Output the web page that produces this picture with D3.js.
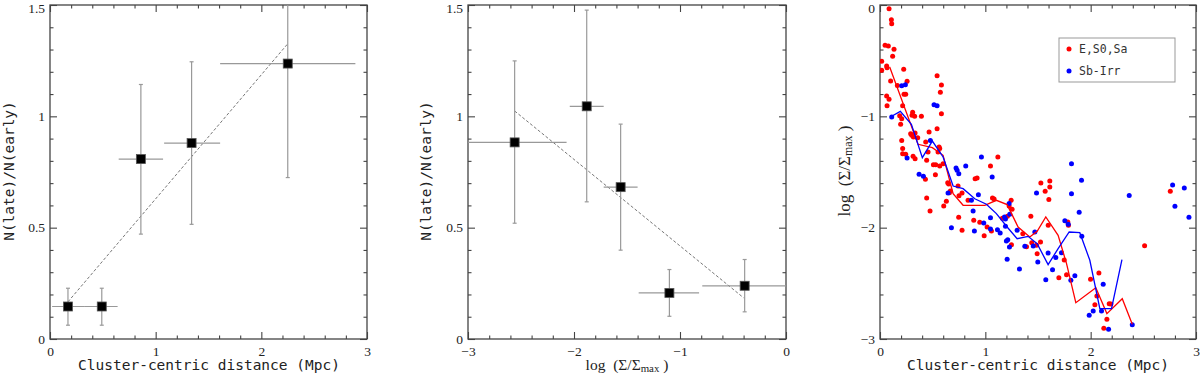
<!DOCTYPE html>
<html>
<head>
<meta charset="utf-8">
<script src="https://cdn.jsdelivr.net/npm/d3@7"></script>
<style>
  body { margin: 0; background: #fff; }
  .monoLabel { font-family: "DejaVu Sans Mono", monospace; font-size: 14.5px; fill: #222; }
  .serifLabel { font-family: "Liberation Serif", serif; fill: #222; }
</style>
</head>
<body>
<div id="canvas"></div>
<script>
"use strict"
let svgWidth = 1200;
let svgHeight = 375;

// ---- panel 1 : ratio vs cluster-centric distance
let p1X    = [0.17, 0.49, 0.86, 1.34, 2.25];
let p1Y    = [0.146, 0.146, 0.808, 0.880, 1.237];
let p1XLo  = [0.02, 0.33, 0.65, 1.08, 1.61];
let p1XHi  = [0.33, 0.64, 1.07, 1.61, 2.89];
let p1YLo  = [0.062, 0.062, 0.471, 0.515, 0.725];
let p1YHi  = [0.228, 0.228, 1.143, 1.245, 1.75];
let p1FitX = [0.17, 2.25];
let p1FitY = [0.167, 1.326];

// ---- panel 2 : ratio vs log density
let p2X    = [-2.56, -1.88, -1.56, -1.10, -0.39];
let p2Y    = [0.883, 1.045, 0.682, 0.207, 0.239];
let p2XLo  = [-3.0, -2.04, -1.72, -1.39, -0.79];
let p2XHi  = [-2.07, -1.72, -1.40, -0.82, 0.0];
let p2YLo  = [0.52, 0.616, 0.399, 0.102, 0.122];
let p2YHi  = [1.249, 1.477, 0.965, 0.312, 0.357];
let p2FitX = [-2.56, -0.40];
let p2FitY = [1.024, 0.185];

// ---- panel 3 : log density vs distance, early (red) and late (blue) types
let redX = [0.086,0.108,0.111,0.048,0.079,0.133,0.120,0.016,0.016,0.063,0.067,0.225,0.101,0.257,0.165,0.228,0.244,0.063,0.086,0.067,0.215,
  0.542,0.583,0.573,0.583,0.310,0.329,0.304,0.393,0.206,0.187,0.196,0.291,0.301,0.333,0.317,0.358,0.206,0.434,0.466,0.542,
  0.215,0.215,0.244,0.314,0.333,0.456,0.443,0.561,0.567,0.551,0.507,0.529,0.567,0.526,0.431,0.443,0.475,0.599,0.643,0.652,
  0.668,0.659,0.605,0.630,0.741,0.750,0.779,0.747,0.779,0.836,0.903,0.922,0.890,0.947,0.989,1.017,1.049,1.119,1.068,1.083,
  1.058,1.226,1.245,1.254,1.248,1.210,1.162,1.391,1.432,1.356,1.441,1.486,1.492,1.527,1.568,1.612,1.612,1.603,1.597,1.524,
  1.698,1.749,1.771,1.783,1.789,1.999,2.078,2.040,2.059,2.125,2.154,2.176,2.192,2.512,2.756];
let redY = [-0.033,-0.132,-0.168,-0.362,-0.368,-0.398,-0.461,-0.506,-0.587,-0.548,-0.563,-0.578,-0.683,-0.686,-0.722,-0.802,-0.802,-0.817,-0.847,-0.904,-0.904,
  -0.635,-0.719,-0.784,-0.976,-0.964,-1.000,-0.991,-1.000,-1.021,-0.994,-1.072,-1.156,-1.171,-1.150,-1.186,-1.192,-1.216,-1.231,-1.141,-1.111,
  -1.290,-1.335,-1.341,-1.359,-1.380,-1.320,-1.395,-1.275,-1.290,-1.320,-1.434,-1.434,-1.446,-1.524,-1.566,-1.734,-1.850,-1.425,-1.596,-1.608,
  -1.671,-1.686,-1.805,-1.763,-1.626,-1.713,-1.689,-1.907,-2.024,-1.754,-1.560,-1.554,-1.934,-1.952,-2.072,-1.994,-1.446,-1.365,-1.734,-1.743,
  -2.030,-1.805,-1.754,-1.835,-2.153,-1.898,-1.916,-2.171,-1.898,-2.054,-2.135,-2.159,-2.234,-1.599,-1.674,-1.581,-1.635,-1.746,-1.979,-2.129,
  -2.449,-2.290,-2.422,-1.949,-1.979,-2.464,-2.407,-2.692,-2.614,-2.904,-2.823,-2.683,-2.686,-2.162,-1.674];

let blueX = [0.111,0.206,0.241,0.257,0.371,0.412,0.478,0.513,0.542,0.722,0.732,0.748,0.814,0.646,0.678,0.868,0.884,0.896,0.934,0.963,
  0.985,1.049,1.049,1.065,1.115,1.141,1.182,1.191,1.191,1.207,1.213,1.200,1.226,1.232,1.229,1.302,1.324,1.375,1.455,1.470,
  1.486,1.498,1.574,1.596,1.638,1.669,1.723,1.755,1.787,1.812,1.818,1.818,1.850,1.891,1.913,1.916,1.986,2.024,2.103,2.119,
  2.170,2.395,2.366,2.778,2.800,2.889,2.933];
let blueY = [-1.006,-0.725,-0.716,-1.374,-1.521,-1.539,-1.216,-0.895,-0.904,-1.464,-1.485,-1.515,-1.446,-1.689,-2.000,-1.754,-1.850,-2.030,-1.704,-1.365,
  -1.958,-1.910,-2.012,-1.545,-2.018,-2.048,-1.904,-1.922,-1.988,-2.284,-2.108,-2.120,-1.784,-1.880,-2.174,-2.024,-2.371,-2.168,-2.165,-2.039,
  -1.689,-2.308,-2.467,-2.228,-2.377,-2.269,-2.225,-1.937,-1.970,-2.473,-1.425,-1.695,-2.431,-1.862,-1.575,-2.078,-2.787,-2.749,-2.749,-2.509,
  -2.913,-2.871,-1.710,-1.617,-1.808,-1.644,-1.907];

let redLineX  = [0.092,0.361,0.497,0.599,0.694,0.789,0.995,1.105,1.207,1.311,1.422,1.492,1.574,1.691,1.771,1.859,2.049,2.154,2.300,2.395];
let redLineY  = [-0.557,-1.251,-1.281,-1.350,-1.695,-1.799,-1.799,-1.754,-1.793,-1.994,-2.084,-2.033,-1.904,-2.069,-2.323,-2.674,-2.539,-2.772,-2.638,-2.868];
let blueLineX = [0.098,0.193,0.298,0.402,0.497,0.599,0.694,0.789,0.900,1.010,1.105,1.207,1.302,1.406,1.492,1.596,1.691,1.796,1.897,1.992,2.087,2.198,2.297];
let blueLineY = [-1.006,-0.955,-1.072,-1.371,-1.222,-1.365,-1.626,-1.650,-1.740,-1.790,-1.874,-1.994,-2.099,-2.078,-2.144,-2.332,-2.189,-2.039,-2.045,-2.293,-2.728,-2.728,-2.287];

let legendNames  = ["E,S0,Sa", "Sb-Irr"];
let legendColors = ["#ff0000", "#0000ff"];

let svg = d3.select("#canvas")
    .append("svg")
    .attr("width", svgWidth)
    .attr("height", svgHeight);

svg.append("rect")
    .attr("width", svgWidth)
    .attr("height", svgHeight)
    .attr("fill", "#ffffff");

// range helper for tick positions
function steps(a, b, s) {
    let out = [];
    let n = Math.round((b - a) / s);
    for (let i = 0; i <= n; i++) out.push(+(a + i * s).toFixed(4));
    return out;
}

function fmtTick(d) {
    if (d === 0) return "0";
    return d < 0 ? "\u2212" + Math.abs(d) : String(d);
}

// frame with inward ticks on all four sides
function makePanel(id, left, right, xDomain, yDomain, xMajor, xMinor, yMajor, yMinor) {
    let top = 5, bottom = 339;
    let x = d3.scaleLinear().domain(xDomain).range([left, right]);
    let y = d3.scaleLinear().domain(yDomain).range([bottom, top]);
    let g = svg.append("g");

    svg.append("clipPath").attr("id", id)
        .append("rect")
        .attr("x", left).attr("y", top)
        .attr("width", right - left).attr("height", bottom - top);

    // [axis maker, scale, transform, major, minor, labelled, padding]
    let sides = [
        [d3.axisBottom, x, `translate(0,${bottom})`, xMajor, xMinor, true, 7],
        [d3.axisTop, x, `translate(0,${top})`, xMajor, xMinor, false, 7],
        [d3.axisLeft, y, `translate(${left},0)`, yMajor, yMinor, true, 5],
        [d3.axisRight, y, `translate(${right},0)`, yMajor, yMinor, false, 5]
    ];
    sides.forEach(function (a) {
        let minor = a[4].filter(v => a[3].indexOf(v) < 0);
        g.append("g").attr("transform", a[2])
            .call(a[0](a[1]).tickValues(minor).tickSize(-3.5).tickFormat(""))
            .call(s => s.select(".domain").remove());
        let maj = g.append("g").attr("transform", a[2])
            .call(a[0](a[1]).tickValues(a[3]).tickSize(-7).tickPadding(a[6])
                .tickFormat(a[5] ? fmtTick : ""))
            .call(s => s.select(".domain").remove());
        maj.selectAll("text")
            .attr("font-family", "Liberation Serif, serif")
            .attr("font-size", 13.5)
            .attr("fill", "#222");
        // keep the topmost y label inside the picture
        if (a[0] === d3.axisLeft) {
            maj.selectAll("text")
                .filter(d => d === yDomain[1])
                .attr("dy", "0.55em");
        }
    });
    g.selectAll(".tick line").attr("stroke", "#444").attr("stroke-width", 1.1);

    g.append("rect")
        .attr("x", left).attr("y", top)
        .attr("width", right - left).attr("height", bottom - top)
        .attr("fill", "none")
        .attr("stroke", "#444")
        .attr("stroke-width", 1.3);

    return { x: x, y: y, g: g, clip: "url(#" + id + ")" };
}

// squares with error bars and the dashed fit
function drawRatio(p, xs, ys, xlo, xhi, ylo, yhi, fitX, fitY) {
    let layer = svg.append("g").attr("clip-path", p.clip);
    let idx = d3.range(xs.length);

    layer.append("path")
        .attr("d", d3.line().x(i => p.x(fitX[i])).y(i => p.y(fitY[i]))(d3.range(fitX.length)))
        .attr("fill", "none")
        .attr("stroke", "#777")
        .attr("stroke-width", 1)
        .attr("stroke-dasharray", "3,2");

    idx.forEach(function (i) {
        layer.append("line")
            .attr("x1", p.x(xlo[i])).attr("x2", p.x(xhi[i]))
            .attr("y1", p.y(ys[i])).attr("y2", p.y(ys[i]))
            .attr("stroke", "#999").attr("stroke-width", 1.2);
        layer.append("line")
            .attr("x1", p.x(xs[i])).attr("x2", p.x(xs[i]))
            .attr("y1", p.y(ylo[i])).attr("y2", p.y(yhi[i]))
            .attr("stroke", "#999").attr("stroke-width", 1.2);
        [ylo[i], yhi[i]].forEach(function (v) {
            layer.append("line")
                .attr("x1", p.x(xs[i]) - 2).attr("x2", p.x(xs[i]) + 2)
                .attr("y1", p.y(v)).attr("y2", p.y(v))
                .attr("stroke", "#999").attr("stroke-width", 1.2);
        });
    });

    layer.selectAll("rect.pt")
        .data(idx)
        .join("rect")
        .attr("class", "pt")
        .attr("x", i => p.x(xs[i]) - 4.5)
        .attr("y", i => p.y(ys[i]) - 4.5)
        .attr("width", 9)
        .attr("height", 9)
        .attr("fill", "#000")
        .attr("stroke", "#555")
        .attr("stroke-width", 0.8);
}

// log (Σ/Σmax) label as real text with subscript
function sigmaLabel(sel, size) {
    sel.attr("font-size", size);
    sel.append("tspan").text("log\u00a0\u00a0(\u03A3/\u03A3");
    sel.append("tspan").attr("font-size", size * 0.7).attr("dy", 2).text("max");
    sel.append("tspan").attr("dy", -2).text("\u00a0)");
}

// ---------------- panel 1
let p1 = makePanel("clip1", 50, 367, [0, 3], [0, 1.5],
    steps(0, 3, 1), steps(0, 3, 0.2), steps(0, 1.5, 0.5), steps(0, 1.5, 0.1));
drawRatio(p1, p1X, p1Y, p1XLo, p1XHi, p1YLo, p1YHi, p1FitX, p1FitY);

svg.append("text").attr("class", "monoLabel")
    .attr("x", 209).attr("y", 370)
    .attr("text-anchor", "middle")
    .text("Cluster-centric distance (Mpc)");
svg.append("text").attr("class", "monoLabel")
    .attr("transform", "translate(14,171) rotate(-90)")
    .attr("text-anchor", "middle")
    .text("N(late)/N(early)");

// ---------------- panel 2
let p2 = makePanel("clip2", 468, 786, [-3, 0], [0, 1.5],
    steps(-3, 0, 1), steps(-3, 0, 0.2), steps(0, 1.5, 0.5), steps(0, 1.5, 0.1));
drawRatio(p2, p2X, p2Y, p2XLo, p2XHi, p2YLo, p2YHi, p2FitX, p2FitY);

svg.append("text").attr("class", "serifLabel")
    .attr("x", 627).attr("y", 370)
    .attr("text-anchor", "middle")
    .call(sigmaLabel, 15.5);
svg.append("text").attr("class", "monoLabel")
    .attr("transform", "translate(431,171) rotate(-90)")
    .attr("text-anchor", "middle")
    .text("N(late)/N(early)");

// ---------------- panel 3
let p3 = makePanel("clip3", 880, 1196, [0, 3], [-3, 0],
    steps(0, 3, 1), steps(0, 3, 0.2), steps(-3, 0, 1), steps(-3, 0, 0.2));
let l3 = svg.append("g").attr("clip-path", p3.clip);

l3.selectAll("circle.red")
    .data(d3.range(redX.length))
    .join("circle")
    .attr("class", "red")
    .attr("cx", i => p3.x(redX[i]))
    .attr("cy", i => p3.y(redY[i]))
    .attr("r", 2.5)
    .attr("fill", legendColors[0]);

l3.selectAll("circle.blue")
    .data(d3.range(blueX.length))
    .join("circle")
    .attr("class", "blue")
    .attr("cx", i => p3.x(blueX[i]))
    .attr("cy", i => p3.y(blueY[i]))
    .attr("r", 2.5)
    .attr("fill", legendColors[1]);

l3.append("path")
    .attr("d", d3.line().x(i => p3.x(redLineX[i])).y(i => p3.y(redLineY[i]))(d3.range(redLineX.length)))
    .attr("fill", "none").attr("stroke", legendColors[0]).attr("stroke-width", 1.3);
l3.append("path")
    .attr("d", d3.line().x(i => p3.x(blueLineX[i])).y(i => p3.y(blueLineY[i]))(d3.range(blueLineX.length)))
    .attr("fill", "none").attr("stroke", legendColors[1]).attr("stroke-width", 1.3);

// legend box
svg.append("rect")
    .attr("x", 1059).attr("y", 38)
    .attr("width", 116).attr("height", 44)
    .attr("fill", "#fff")
    .attr("stroke", "#999")
    .attr("stroke-width", 1);
legendNames.forEach(function (name, i) {
    svg.append("circle")
        .attr("cx", 1069).attr("cy", 49 + i * 22)
        .attr("r", 2.5).attr("fill", legendColors[i]);
    svg.append("text")
        .attr("x", 1079).attr("y", 53 + i * 22)
        .attr("font-family", "DejaVu Sans Mono, monospace")
        .attr("font-size", 11.5)
        .attr("fill", "#333")
        .text(name);
});

svg.append("text").attr("class", "monoLabel")
    .attr("x", 1038).attr("y", 370)
    .attr("text-anchor", "middle")
    .text("Cluster-centric distance (Mpc)");
svg.append("text").attr("class", "serifLabel")
    .attr("transform", "translate(850,171) rotate(-90)")
    .attr("text-anchor", "middle")
    .call(sigmaLabel, 17);
</script>
</body>
</html>
